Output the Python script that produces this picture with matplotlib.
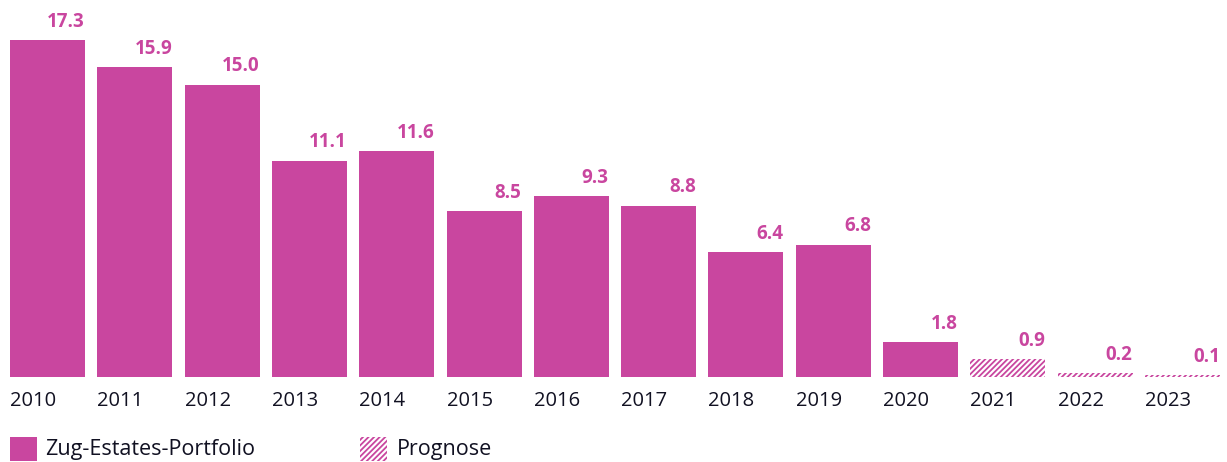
import matplotlib
matplotlib.use("Agg")
import matplotlib.pyplot as plt
from matplotlib.patches import Rectangle

# daten
jahre = ["2010", "2011", "2012", "2013", "2014", "2015", "2016", "2017",
         "2018", "2019", "2020", "2021", "2022", "2023"]
werte = [17.3, 15.9, 15.0, 11.1, 11.6, 8.5, 9.3, 8.8, 6.4, 6.8, 1.8, 0.9, 0.2, 0.1]
prognose = [False] * 11 + [True] * 3
legende = ["Zug-Estates-Portfolio", "Prognose"]

farbe = "#C9469F"
plt.rcParams["font.family"] = ["Open Sans", "DejaVu Sans"]
plt.rcParams["hatch.linewidth"] = 1.3

W, H = 1227, 462
fig = plt.figure(figsize=(W / 100, H / 100), dpi=100)
ax = fig.add_axes([10 / W, 85 / H, 1210 / W, 337 / H])

w = 75 / 87.3
for i, (v, p) in enumerate(zip(werte, prognose)):
    if p:
        ax.bar(i, v, width=w, color="white", edgecolor=farbe, hatch="//////", linewidth=0)
    else:
        ax.bar(i, v, width=w, color=farbe, linewidth=0)
    ax.annotate(f"{v:.1f}", (i + w / 2, v), xytext=(0, 6), textcoords="offset points",
                ha="right", va="bottom", color=farbe, fontsize=13.5, fontweight="bold",
                annotation_clip=False)
    ax.annotate(jahre[i], (i - w / 2, 0), xytext=(0, -10), textcoords="offset points",
                ha="left", va="top", color="#111122", fontsize=14.5, annotation_clip=False)

ax.set_xlim(-w / 2, len(jahre) - 1 + w / 2)
ax.set_ylim(0, 17.3)
ax.axis("off")

# legende
fig.add_artist(Rectangle((10 / W, 1 - 461 / H), 27 / W, 24 / H, transform=fig.transFigure,
                         color=farbe, linewidth=0))
fig.text(45 / W, 1 - 449 / H, legende[0], ha="left", va="center", fontsize=15.5, color="#111122")
fig.add_artist(Rectangle((360 / W, 1 - 461 / H), 27 / W, 24 / H, transform=fig.transFigure,
                         facecolor="white", edgecolor=farbe, hatch="//////", linewidth=0))
fig.text(397 / W, 1 - 449 / H, legende[1], ha="left", va="center", fontsize=15.5, color="#111122")

fig.savefig("out.png", dpi=100)
